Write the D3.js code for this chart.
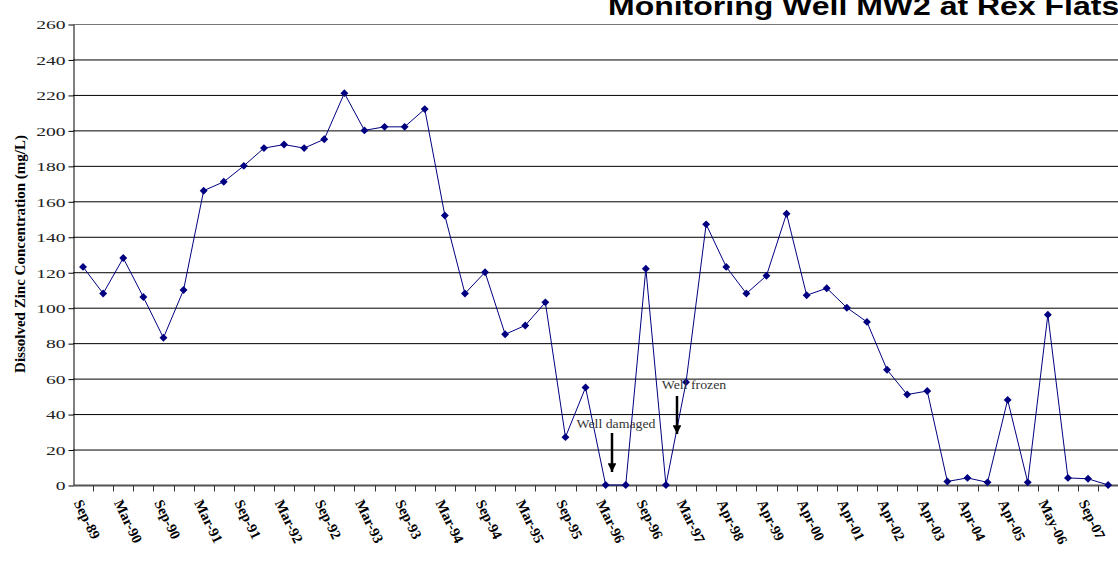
<!DOCTYPE html>
<html>
<head>
<meta charset="utf-8">
<script src="https://cdn.jsdelivr.net/npm/d3@7"></script>
<style>
body { margin: 0; background: #fff; }
svg { display: block; }
</style>
</head>
<body>
<div id="chart"></div>
<script>
// sampling dates (every second one labelled on the axis)
const dates = [
  'Sep-89','Dec-89','Mar-90','Jun-90','Sep-90','Dec-90','Mar-91','Jun-91',
  'Sep-91','Dec-91','Mar-92','Jun-92','Sep-92','Dec-92','Mar-93','Jun-93',
  'Sep-93','Dec-93','Mar-94','Jun-94','Sep-94','Dec-94','Mar-95','Jun-95',
  'Sep-95','Dec-95','Mar-96','Jun-96','Sep-96','Dec-96','Mar-97','Oct-97',
  'Apr-98','Oct-98','Apr-99','Oct-99','Apr-00','Oct-00','Apr-01','Oct-01',
  'Apr-02','Oct-02','Apr-03','Oct-03','Apr-04','Oct-04','Apr-05','Oct-05',
  'May-06','Oct-06','Sep-07','Apr-08'
];
const zinc = [
  123,108,128,106,83,110,166,171,
  180,190,192,190,195,221,200,202,
  202,212,152,108,120,85,90,103,
  27,55,0,0,122,0,58,147,
  123,108,118,153,107,111,100,92,
  65,51,53,2,4,1.5,48,1.5,
  96,4,3.5,0
];
const yTicks = d3.range(0, 261, 20);
const notes = [
  {text: 'Well damaged', tx: 616, ty: 428, ax: 612, y0: 433, y1: 472},
  {text: 'Well frozen', tx: 694, ty: 389, ax: 677, y0: 396, y1: 434}
];

const W = 1118, H = 561;
const m = {left: 73, top: 24, bottom: 76};
const serif = 'Liberation Serif, Times New Roman, serif';

const svg = d3.select('#chart').append('svg')
  .attr('width', W).attr('height', H);

const x = d3.scaleBand().domain(dates)
  .range([m.left, m.left + 20.1 * dates.length]);
const y = d3.scaleLinear().domain([0, 260]).range([H - m.bottom, m.top]);

// gridlines
svg.append('g').selectAll('line').data(yTicks.filter(d => d > 0)).enter()
  .append('line')
  .attr('x1', m.left).attr('x2', W)
  .attr('y1', d => y(d) + 0.5).attr('y2', d => y(d) + 0.5)
  .attr('stroke', d => d == 260 ? '#777' : '#000').attr('stroke-width', 1);

// y axis
const ya = svg.append('g')
  .attr('transform', 'translate(' + (m.left + 0.5) + ',0.5)')
  .call(d3.axisLeft(y).tickValues(yTicks).tickSize(5).tickSizeOuter(0));
ya.select('.domain').attr('stroke', '#000');
ya.selectAll('.tick line').attr('stroke', '#000');
ya.selectAll('.tick text')
  .attr('font-family', serif).attr('font-size', 13.5).attr('fill', '#222')
  .attr('x', -8 / 1.45).attr('transform', 'scale(1.45,1)');

// x axis: ticks at category boundaries
const xa = svg.append('g').attr('transform', 'translate(0,' + (y(0) + 0.5) + ')');
xa.append('line').attr('x1', m.left).attr('x2', W)
  .attr('stroke', '#555').attr('stroke-width', 2);
xa.selectAll('line.tk').data(dates).enter().append('line')
  .attr('class', 'tk')
  .attr('x1', d => Math.round(x(d) + x.bandwidth()) + 0.5)
  .attr('x2', d => Math.round(x(d) + x.bandwidth()) + 0.5)
  .attr('y1', 0).attr('y2', 6).attr('stroke', '#333');
xa.selectAll('text').data(dates.filter((d, i) => i % 2 == 0)).enter().append('text')
  .attr('transform', d => 'translate(' + (x(d) + x.bandwidth() / 2 - 5) + ',15) rotate(64)')
  .attr('font-family', serif)
  .attr('font-weight', 'bold').attr('font-size', 14.5)
  .attr('dy', '0.35em')
  .text(d => d);

// y axis title
svg.append('text')
  .attr('transform', 'translate(25,' + 254 + ') rotate(-90)')
  .attr('text-anchor', 'middle')
  .attr('font-family', serif)
  .attr('font-weight', 'bold').attr('font-size', 15)
  .text('Dissolved Zinc Concentration (mg/L)');

// series
const cx = (d, i) => x(dates[i]) + x.bandwidth() / 2;
svg.append('path')
  .attr('d', d3.line().x(cx).y(d => y(d))(zinc))
  .attr('fill', 'none').attr('stroke', '#000080').attr('stroke-width', 1);
svg.append('g').selectAll('path').data(zinc).enter().append('path')
  .attr('transform', (d, i) => 'translate(' + cx(d, i) + ',' + y(d) + ')')
  .attr('d', d3.symbol(d3.symbolDiamond2, 40))
  .attr('fill', '#000080');

// annotations
svg.append('defs').append('marker')
  .attr('id', 'ah').attr('viewBox', '0 0 10 10')
  .attr('refX', 10).attr('refY', 5)
  .attr('markerWidth', 3.5).attr('markerHeight', 3.5)
  .attr('markerUnits', 'strokeWidth').attr('orient', 'auto')
  .append('path').attr('d', 'M0,0L10,5L0,10z').attr('fill', '#000');
const ng = svg.append('g').selectAll('g').data(notes).enter().append('g');
ng.append('text')
  .attr('transform', d => 'translate(' + d.tx + ',' + d.ty + ') scale(1.2,1)')
  .attr('text-anchor', 'middle')
  .attr('font-family', serif)
  .attr('font-size', 11.5).attr('fill', '#333')
  .text(d => d.text);
ng.append('line')
  .attr('x1', d => d.ax).attr('x2', d => d.ax)
  .attr('y1', d => d.y0).attr('y2', d => d.y1)
  .attr('stroke', '#000').attr('stroke-width', 2.5)
  .attr('marker-end', 'url(#ah)');

// title (runs off the right edge, as in the source)
svg.append('text')
  .attr('transform', 'translate(608,15) scale(1.28,1)')
  .attr('font-family', 'Liberation Sans, Arial, sans-serif')
  .attr('font-weight', 'bold').attr('font-size', 25)
  .text('Monitoring Well MW2 at Rex Flats');
</script>
</body>
</html>
